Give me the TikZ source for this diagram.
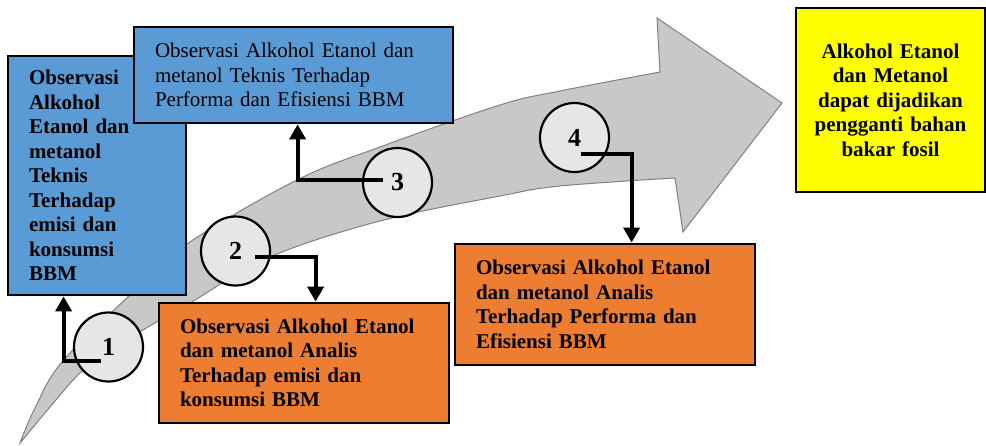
\documentclass[tikz,border=0pt]{standalone}
\usepackage{fontspec}
\setmainfont{Liberation Serif}
\usepackage{xcolor}
\definecolor{boxblue}{RGB}{91,155,213}
\definecolor{boxorange}{RGB}{237,125,49}
\definecolor{boxyellow}{RGB}{255,255,0}
\definecolor{bandgray}{RGB}{200,200,200}
\definecolor{bandline}{RGB}{128,128,128}
\definecolor{stagegray}{RGB}{230,230,230}
\usepackage{tikz}
\usetikzlibrary{arrows.meta,calc}
\tikzset{
  >={Triangle[length=7.5pt,width=8pt]},
  obsbox/.style={rectangle,draw,line width=1.4pt,align=left,inner xsep=10.5pt,inner ysep=0pt,font=\fontsize{10.5}{12.25}\selectfont},
  teknis/.style={obsbox,fill=boxblue},
  analisis/.style={obsbox,fill=boxorange,font=\fontsize{10.5}{12.25}\selectfont\bfseries},
  resultbox/.style={obsbox,fill=boxyellow,align=center,inner xsep=4pt,font=\fontsize{10.5}{12.25}\selectfont\bfseries},
  stage/.style={circle,draw,line width=1.1pt,fill=stagegray,minimum size=34.5pt,inner sep=0pt,font=\fontsize{13}{15}\selectfont\bfseries},
  band/.style={draw=bandline,line width=0.5pt,fill=bandgray},
  link/.style={->,line width=2pt}
}

\begin{document}
\begin{tikzpicture}[x=0.5pt,y=-0.5pt]
  \useasboundingbox (0,0) rectangle (986,445);

  % curved arrow in the background
  \draw[band] plot[smooth,tension=0.6] coordinates {(20,443) (35,408) (62,362) (130,295) (187,244) (297,180) (380,147) (500,105) (560,91) (660,72)}
    -- (657,18) -- (782,103) -- (683,232) -- (675,178)
    -- plot[smooth,tension=0.6] coordinates {(675,178) (560,186) (500,196) (380,221) (270,257) (190,303) (160,320) (110,350) (80,373) (50,407) (20,443)}
    -- cycle;

  \node[teknis,font=\fontsize{10.5}{12.25}\selectfont\bfseries,text width=68pt,minimum height=119.5pt] (tekEmisi) at (97,175.5)
    {Observasi\\Alkohol\\Etanol dan\\metanol\\Teknis\\Terhadap\\emisi dan\\konsumsi\\BBM};
  \node[teknis,text width=138.5pt,minimum height=48pt] (tekPerf) at (293.5,75)
    {Observasi Alkohol Etanol dan\\metanol Teknis Terhadap\\Performa dan Efisiensi BBM};
  \node[analisis,text width=124pt,minimum height=60pt] (anEmisi) at (304,363)
    {Observasi Alkohol Etanol\\dan metanol Analis\\Terhadap emisi dan\\konsumsi BBM};
  \node[analisis,text width=129pt,minimum height=60.5pt] (anPerf) at (605,304.5)
    {Observasi Alkohol Etanol\\dan metanol Analis\\Terhadap Performa dan\\Efisiensi BBM};
  \node[resultbox,text width=86.5pt,minimum height=92pt] (hasil) at (890.5,100)
    {Alkohol Etanol\\dan Metanol\\dapat dijadikan\\pengganti bahan\\bakar fosil};

  \node[stage] (s1) at (108.5,347) {1};
  \node[stage] (s2) at (235.5,251) {2};
  \node[stage] (s3) at (397.5,182.5) {3};
  \node[stage] (s4) at (574.5,137.5) {4};

  \draw[link] ($(s1.center)+(-7.5,14)$) -| ($(tekEmisi.south west)+(57,0)$);
  \draw[link] ($(s2.center)+(19.5,6)$) -| ($(anEmisi.north west)+(158,0)$);
  \draw[link] ($(s3.center)+(-14.5,-2.5)$) -| ($(tekPerf.south west)+(165,0)$);
  \draw[link] ($(s4.center)+(6.5,16.5)$) -| ($(anPerf.north west)+(178,0)$);
\end{tikzpicture}
\end{document}
